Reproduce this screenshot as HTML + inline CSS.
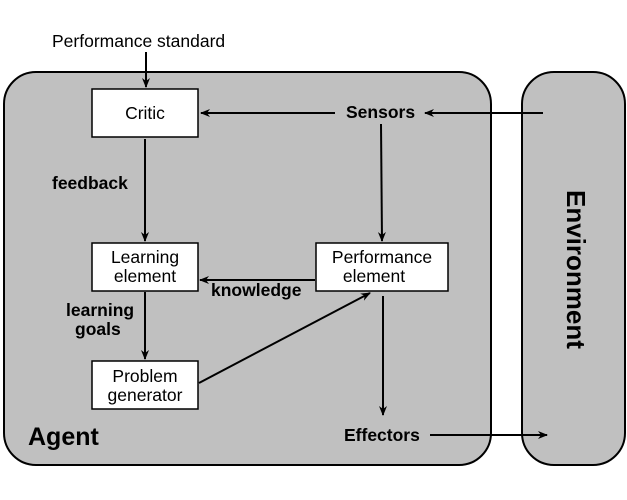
<!DOCTYPE html>
<html><head><meta charset="utf-8"><style>
html,body{margin:0;padding:0;background:#fff;}
svg{display:block;}
text{font-family:"Liberation Sans",Arial,sans-serif;fill:#000;}
.b{font-weight:bold;}
</style></head><body>
<svg width="627" height="500" viewBox="0 0 627 500" xmlns="http://www.w3.org/2000/svg">
<defs>
<marker id="a" markerWidth="10" markerHeight="8" refX="9" refY="4" orient="auto" markerUnits="userSpaceOnUse">
<path d="M0,0 L10,4 L0,8 L3,4 Z" fill="#000"/>
</marker>
</defs>
<rect x="4" y="72" width="487" height="393" rx="32" fill="#c0c0c0" stroke="#000" stroke-width="2"/>
<rect x="522" y="72" width="103" height="393" rx="32" fill="#c0c0c0" stroke="#000" stroke-width="2"/>

<rect x="92" y="89" width="106" height="48" fill="#fff" stroke="#000" stroke-width="1.5"/>
<rect x="92" y="243" width="106" height="48" fill="#fff" stroke="#000" stroke-width="1.5"/>
<rect x="92" y="361" width="106" height="48" fill="#fff" stroke="#000" stroke-width="1.5"/>
<rect x="316" y="243" width="132" height="48" fill="#fff" stroke="#000" stroke-width="1.5"/>

<g stroke="#000" stroke-width="2" fill="none">
<line x1="146" y1="52" x2="146" y2="87" marker-end="url(#a)"/>
<line x1="335" y1="113" x2="201" y2="113" marker-end="url(#a)"/>
<line x1="543" y1="113" x2="425" y2="113" marker-end="url(#a)"/>
<line x1="381" y1="124" x2="382" y2="241" marker-end="url(#a)"/>
<line x1="145" y1="139" x2="145" y2="241" marker-end="url(#a)"/>
<line x1="145" y1="292" x2="145" y2="359" marker-end="url(#a)"/>
<line x1="315" y1="280" x2="200" y2="280" marker-end="url(#a)"/>
<line x1="199" y1="383" x2="370" y2="293" marker-end="url(#a)"/>
<line x1="383" y1="296" x2="383" y2="415" marker-end="url(#a)"/>
<line x1="430" y1="435" x2="547" y2="435" marker-end="url(#a)"/>
</g>

<text x="52" y="47" font-size="17.5">Performance standard</text>
<text x="145" y="119" font-size="17.5" text-anchor="middle">Critic</text>
<text x="145" y="263" font-size="17.5" text-anchor="middle">Learning</text>
<text x="145" y="282" font-size="17.5" text-anchor="middle">element</text>
<text x="145" y="382" font-size="17.5" text-anchor="middle">Problem</text>
<text x="145" y="401" font-size="17.5" text-anchor="middle">generator</text>
<text x="382" y="263" font-size="17.5" text-anchor="middle">Performance</text>
<text x="374" y="282" font-size="17.5" text-anchor="middle">element</text>

<text class="b" x="346" y="118" font-size="17.5">Sensors</text>
<text class="b" x="52" y="189" font-size="17.5">feedback</text>
<text class="b" x="66" y="316" font-size="17.5">learning</text>
<text class="b" x="75" y="335" font-size="17.5">goals</text>
<text class="b" x="211" y="296" font-size="17.5">knowledge</text>
<text class="b" x="344" y="441" font-size="17.5">Effectors</text>
<text class="b" x="28" y="445" font-size="25">Agent</text>
<text class="b" x="0" y="0" font-size="26" transform="translate(567,190) rotate(90)">Environment</text>
</svg>
</body></html>
